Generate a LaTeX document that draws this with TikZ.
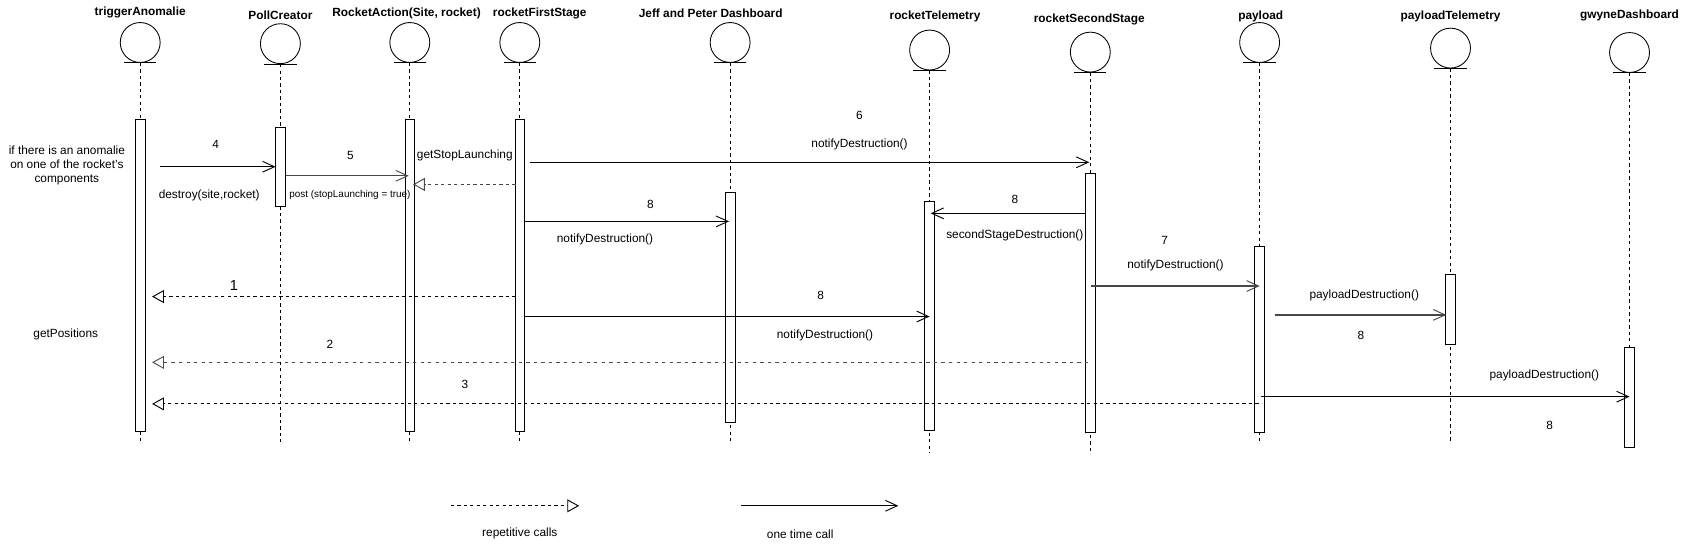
\documentclass[tikz,border=0pt]{standalone}
\usepackage{fontspec}
\setmainfont{Liberation Sans}
\usetikzlibrary{arrows.meta,shapes.geometric}
\tikzset{
  hdr/.style={font=\bfseries\fontsize{11}{13}\selectfont, inner sep=0pt},
  lbl/.style={font=\fontsize{11}{13}\selectfont, inner sep=0pt},
  smalllbl/.style={font=\fontsize{9.2}{11}\selectfont, inner sep=0pt},
  biglbl/.style={font=\fontsize{13.5}{15}\selectfont, inner sep=0pt},
  ent/.style={draw, ellipse, minimum width=37pt, minimum height=37pt, inner sep=0pt, line width=0.8pt},
  life/.style={line width=0.7pt, dash pattern=on 3pt off 3pt},
  actbar/.style={draw, fill=white, minimum width=9pt, inner sep=0pt, anchor=north, line width=0.8pt},
  call/.style={line width=0.85pt, -{Straight Barb[length=11pt,width=10pt,line width=0.85pt]}},
  greycall/.style={call, draw=black!72, line width=1.2pt},
  ret/.style={line width=0.85pt, dash pattern=on 3pt off 3pt, -{Triangle[open,length=11pt,width=12pt,line width=0.85pt,fill=white]}},
}
% #1 name, #2 lifeline x, #3 header x, #4 header y, #5 circle centre y, #6 lifeline end y, #7 title
\newcommand\MyLifeline[7]{%
  \node[hdr] (#1h) at (#3,#4) {#7};
  \node[ent] (#1c) at (#2,#5) {};
  \draw[line width=0.8pt] ([xshift=-15pt]#1c.south) -- ([xshift=15pt]#1c.south);
  \coordinate (#1e) at (#2,#6);
  \draw[life] (#1c.south) -- (#1e);
}
\begin{document}
\begin{tikzpicture}[x=1pt,y=-1pt]
\useasboundingbox (0,0) rectangle (1568,507);

% lifelines
\MyLifeline{ta}{130}{130}{11.7}{39.4}{410}{triggerAnomalie}
\MyLifeline{pc}{260}{260}{13.9}{40.5}{410}{PollCreator}
\MyLifeline{ra}{380}{377}{12.4}{39.4}{410}{RocketAction(Site, rocket)}
\MyLifeline{rf}{482}{500.5}{12.4}{39.4}{410}{rocketFirstStage}
\MyLifeline{jp}{677}{659}{12.4}{39.4}{410}{Jeff and Peter Dashboard}
\MyLifeline{rt}{862}{867}{14.8}{46.4}{420}{rocketTelemetry}
\MyLifeline{rs}{1011}{1010}{18.5}{48.3}{420}{rocketSecondStage}
\MyLifeline{pl}{1168}{1169}{14.8}{39.4}{410}{payload}
\MyLifeline{pt}{1345}{1345}{14.8}{44.6}{411}{payloadTelemetry}
\MyLifeline{gd}{1511}{1511}{13.9}{48.7}{410}{gwyneDashboard}

% activation bars
\node[actbar, minimum height=290pt] (tab) at (130,110) {};
\node[actbar, minimum height=73pt]  (pcb) at (260,118) {};
\node[actbar, minimum height=290pt] (rab) at (380,110) {};
\node[actbar, minimum height=290pt] (rfb) at (482,110) {};
\node[actbar, minimum height=213pt] (jpb) at (677,178.3) {};
\node[actbar, minimum height=212.6pt] (rtb) at (862,186.1) {};
\node[actbar, minimum height=240.8pt] (rsb) at (1011,160.1) {};
\node[actbar, minimum height=173pt] (plb) at (1168,227.8) {};
\node[actbar, minimum height=65pt]  (ptb) at (1345,254.4) {};
\node[actbar, minimum height=92.7pt] (gdb) at (1511,321.5) {};

% message end points
\coordinate (m4s) at (148.5,154.6);  \coordinate (m4e) at (255.5,154.6);
\coordinate (m5s) at (265,163);      \coordinate (m5e) at (379,163);
\coordinate (gsls) at (478,171);     \coordinate (gsle) at (383,171);
\coordinate (m6s) at (491.5,150.5);  \coordinate (m6e) at (1010,150.5);
\coordinate (m8as) at (487,205.3);   \coordinate (m8ae) at (676,205.3);
\coordinate (m8bs) at (1007,197.8);  \coordinate (m8be) at (863,197.8);
\coordinate (m7s) at (1012,265.2);   \coordinate (m7e) at (1168,265.2);
\coordinate (r1s) at (478,275);      \coordinate (r1e) at (141,275);
\coordinate (m8cs) at (487,293.5);   \coordinate (m8ce) at (862,293.5);
\coordinate (mpts) at (1182,292);    \coordinate (mpte) at (1341,292);
\coordinate (r2s) at (1009,336);     \coordinate (r2e) at (141,336);
\coordinate (r3s) at (1167,374.5);   \coordinate (r3e) at (141,374.5);
\coordinate (mgds) at (1169,367.8);  \coordinate (mgde) at (1511,367.8);

% messages
\draw[call] (m4s) -- (m4e);
\draw[greycall] (m5s) -- (m5e);
\draw[ret, draw=black!72, line width=1.1pt] (gsls) -- (gsle);
\draw[call] (m6s) -- (m6e);
\draw[call] (m8as) -- (m8ae);
\draw[call] (m8bs) -- (m8be);
\draw[greycall] (m7s) -- (m7e);
\draw[ret] (r1s) -- (r1e);
\draw[call] (m8cs) -- (m8ce);
\draw[greycall] (mpts) -- (mpte);
\draw[ret, draw=black!70, line width=1.1pt, dash pattern=on 3pt off 4pt] (r2s) -- (r2e);
\draw[ret] (r3s) -- (r3e);
\draw[call] (mgds) -- (mgde);

% labels
\node[lbl, align=center] (ctx) at (62,153) {if there is an anomalie\\on one of the rocket's\\components};
\node[lbl] (l4) at (200,134) {4};
\node[lbl] (ldestroy) at (194,181) {destroy(site,rocket)};
\node[lbl] (l5) at (325,143.7) {5};
\node[smalllbl] (lpost) at (324.5,181) {post (stopLaunching = true)};
\node[lbl] (lgsl) at (431,143.7) {getStopLaunching};
\node[lbl] (l6) at (797,106.6) {6};
\node[lbl] (l6b) at (797,134) {notifyDestruction()};
\node[lbl] (l8a) at (603,189.5) {8};
\node[lbl] (l8ab) at (561,222) {notifyDestruction()};
\node[lbl] (l8b) at (941,185) {8};
\node[lbl] (l8bb) at (941,218) {secondStageDestruction()};
\node[lbl] (l7) at (1080,223) {7};
\node[lbl] (l7b) at (1090,245.7) {notifyDestruction()};
\node[biglbl] (l1) at (217,264.3) {1};
\node[lbl] (l8c) at (761,273.5) {8};
\node[lbl] (l8cb) at (765,310.6) {notifyDestruction()};
\node[lbl] (lpt) at (1265,273.6) {payloadDestruction()};
\node[lbl] (lpt8) at (1262,310.6) {8};
\node[lbl] (lgp) at (61,310) {getPositions};
\node[lbl] (l2) at (306,319.3) {2};
\node[lbl] (l3) at (431,356.4) {3};
\node[lbl] (lgd) at (1432,347.7) {payloadDestruction()};
\node[lbl] (lgd8) at (1437,394) {8};

% legend
\coordinate (lg1s) at (418,469); \coordinate (lg1e) at (537,469);
\coordinate (lg2s) at (687,469); \coordinate (lg2e) at (833,469);
\draw[ret] (lg1s) -- (lg1e);
\draw[call] (lg2s) -- (lg2e);
\node[lbl] (lgr) at (482,495) {repetitive calls};
\node[lbl] (lgo) at (742,495) {one time call};
\end{tikzpicture}
\end{document}
